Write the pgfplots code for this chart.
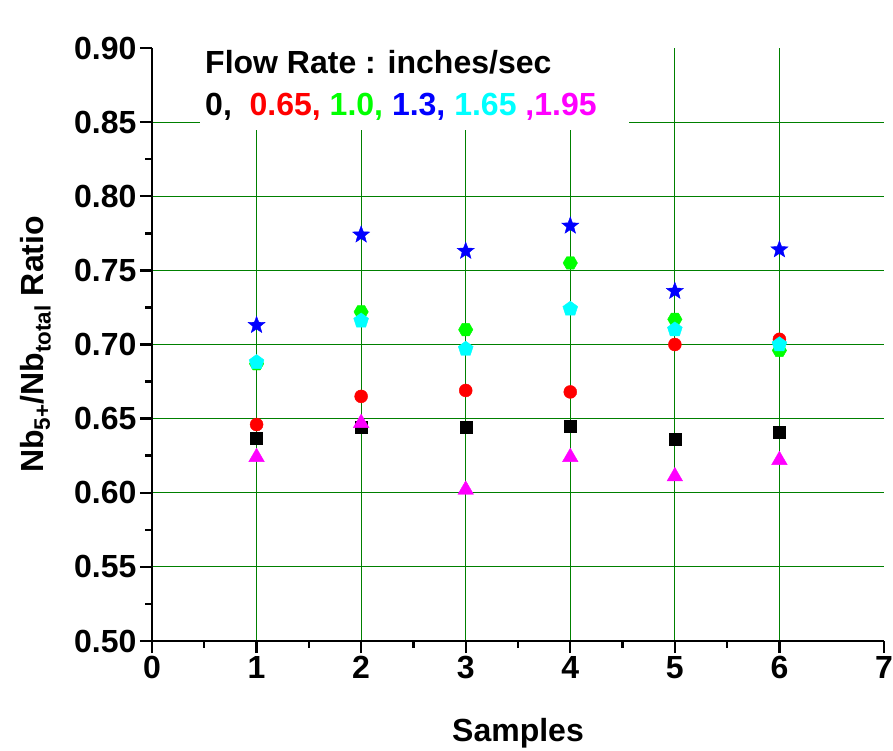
\documentclass[border=0pt]{standalone}
\usepackage{fontspec}
\setmainfont{Liberation Sans}
\usepackage{pgfplots}
\pgfplotsset{compat=1.18}
\usetikzlibrary{plotmarks}

\definecolor{gridgreen}{RGB}{0,128,0}
\definecolor{cred}{RGB}{255,0,0}
\definecolor{cgreen}{RGB}{0,255,0}
\definecolor{cblue}{RGB}{0,0,255}
\definecolor{ccyan}{RGB}{0,255,255}
\definecolor{cmag}{RGB}{255,0,255}

\pgfdeclareplotmark{fstar}{%
 \pgfpathmoveto{\pgfpointpolar{90}{\pgfplotmarksize}}%
 \pgfpathlineto{\pgfpointpolar{126}{0.42\pgfplotmarksize}}%
 \pgfpathlineto{\pgfpointpolar{162}{\pgfplotmarksize}}%
 \pgfpathlineto{\pgfpointpolar{198}{0.42\pgfplotmarksize}}%
 \pgfpathlineto{\pgfpointpolar{234}{\pgfplotmarksize}}%
 \pgfpathlineto{\pgfpointpolar{270}{0.42\pgfplotmarksize}}%
 \pgfpathlineto{\pgfpointpolar{306}{\pgfplotmarksize}}%
 \pgfpathlineto{\pgfpointpolar{342}{0.42\pgfplotmarksize}}%
 \pgfpathlineto{\pgfpointpolar{18}{\pgfplotmarksize}}%
 \pgfpathlineto{\pgfpointpolar{54}{0.42\pgfplotmarksize}}%
 \pgfpathclose\pgfusepathqfillstroke}
\pgfdeclareplotmark{hexagon*}{%
 \pgfpathmoveto{\pgfpointpolar{0}{\pgfplotmarksize}}%
 \pgfpathlineto{\pgfpointpolar{60}{\pgfplotmarksize}}%
 \pgfpathlineto{\pgfpointpolar{120}{\pgfplotmarksize}}%
 \pgfpathlineto{\pgfpointpolar{180}{\pgfplotmarksize}}%
 \pgfpathlineto{\pgfpointpolar{240}{\pgfplotmarksize}}%
 \pgfpathlineto{\pgfpointpolar{300}{\pgfplotmarksize}}%
 \pgfpathclose\pgfusepathqfillstroke}

\newcommand{\bigfont}{\bfseries\fontsize{32bp}{38bp}\selectfont}

\begin{document}
\begin{tikzpicture}
\begin{axis}[
  at={(0,0)}, anchor=south west,
  scale only axis, width=732bp, height=593bp,
  xmin=0, xmax=7, ymin=0.5, ymax=0.9,
  axis lines=left,
  axis line style={-, line width=2.6bp, black},
  xtick={0,1,2,3,4,5,6},
  extra x ticks={7}, extra x tick style={grid=none},
  ytick={0.5,0.55,0.6,0.65,0.7,0.75,0.8,0.85},
  extra y ticks={0.9}, extra y tick style={grid=none},
  minor x tick num=1, minor y tick num=1,
  tick align=outside,
  major tick length=12bp, minor tick length=6.5bp,
  every tick/.style={black, line width=2.4bp},
  grid=major,
  major grid style={gridgreen, line width=1.2bp},
  yticklabel style={/pgf/number format/.cd, fixed, fixed zerofill, precision=2},
  /pgf/number format/assume math mode=true,
  tick label style={font=\bigfont},
  label style={font=\bigfont},
  xlabel={Samples},
  ylabel={Nb\textsubscript{5+}/Nb\textsubscript{total} Ratio},
  xlabel style={at={(axis description cs:0.5,-0.1703)}, anchor=base},
  ylabel style={at={(axis description cs:-0.1489,0.5)}, anchor=base},
  clip=false,
]
\fill[white] (axis cs:0.459,0.8447) rectangle (axis cs:4.561,0.905);
\node[anchor=base west, inner sep=0pt, font=\bigfont] at (axis cs:0.507,0.8831) {Flow Rate : inches/sec};
\node[anchor=base west, inner sep=0pt, font=\bigfont] at (axis cs:0.507,0.8548) {0,\ \ \textcolor{cred}{0.65,} \textcolor{cgreen}{1.0,} \textcolor{cblue}{1.3,} \textcolor{ccyan}{1.65} \textcolor{cmag}{,1.95}};

\addplot[only marks, mark=square*, mark size=6bp, mark options={fill=black, draw=black}] coordinates {
 (1,0.637) (2,0.644) (3,0.644) (4,0.645) (5,0.636) (6,0.641)};
\addplot[only marks, mark=*, mark size=6.5bp, mark options={fill=cred, draw=cred}] coordinates {
 (1,0.646) (2,0.665) (3,0.669) (4,0.668) (5,0.700) (6,0.7035)};
\addplot[only marks, mark=hexagon*, mark size=7.2bp, mark options={fill=cgreen, draw=cgreen}] coordinates {
 (1,0.687) (2,0.722) (3,0.710) (4,0.755) (5,0.717) (6,0.696)};
\addplot[only marks, mark=fstar, mark size=9bp, mark options={fill=cblue, draw=cblue}] coordinates {
 (1,0.713) (2,0.774) (3,0.763) (4,0.780) (5,0.736) (6,0.764)};
\addplot[only marks, mark=pentagon*, mark size=7.8bp, mark options={fill=ccyan, draw=ccyan}] coordinates {
 (1,0.688) (2,0.716) (3,0.697) (4,0.724) (5,0.710) (6,0.700)};
\addplot[only marks, mark=triangle*, mark size=9bp, mark options={fill=cmag, draw=cmag}] coordinates {
 (1,0.624) (2,0.647) (3,0.602) (4,0.624) (5,0.611) (6,0.622)};
\end{axis}
\pgfresetboundingbox
\path (-152bp,-110bp) rectangle (741bp,641bp);
\end{tikzpicture}
\end{document}
